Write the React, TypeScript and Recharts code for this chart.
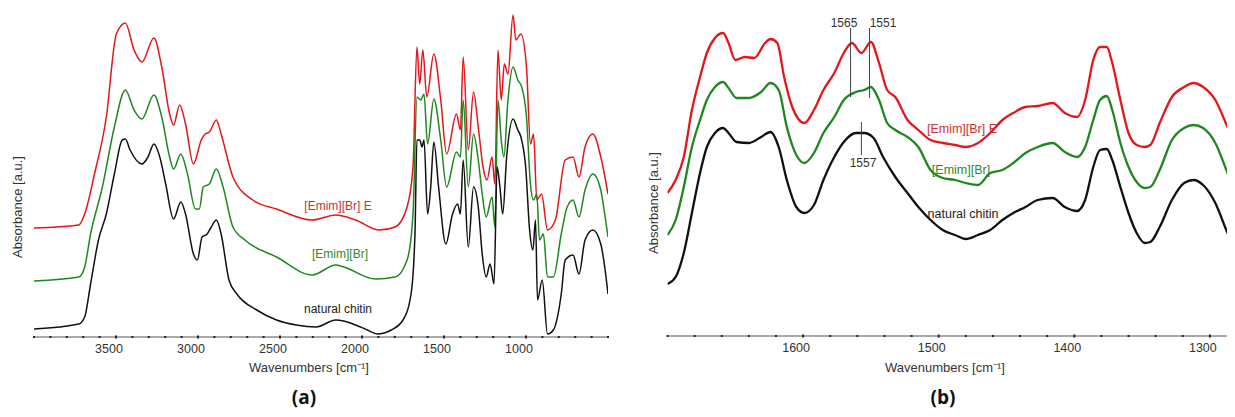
import React from "react";
import { LineChart, Line, XAxis, YAxis, ReferenceLine } from "recharts";

// ---------- Panel (a): full spectrum (wavenumber, cm-1) ----------
const aChitinWn = [4000,3727,3691,3655,3607,3559,3510,3462,3443,3414,3342,3305,3269,3233,3197,3149,3105,3076,3028,3004,2975,2944,2919,2888,2859,2811,2763,2642,2521,2401,2280,2160,2111,2039,1967,1906,1822,1750,1701,1677,1665,1648,1634,1622,1600,1581,1562,1533,1489,1448,1417,1400,1383,1352,1320,1291,1267,1243,1219,1195,1176,1159,1142,1118,1079,1050,1031,1002,978,958,942,930,901,869,833,785,761,713,677,640,592,544,520,500];
const aChitinAbs = [8,13,20,53,97,123,163,197,198,187,173,180,193,180,153,118,135,123,83,77,100,103,110,117,103,57,43,27,17,12,10,17,16,12,7,3,7,17,43,103,197,197,190,197,123,150,195,150,93,123,133,123,177,90,150,130,83,60,73,53,170,150,123,180,218,207,200,170,107,87,117,37,57,3,7,43,77,82,63,97,107,93,70,43];

const aEmimWn = [4000,3727,3691,3655,3583,3510,3443,3390,3342,3269,3221,3173,3149,3105,3064,3016,2992,2968,2931,2888,2847,2787,2714,2521,2304,2160,2111,1918,1798,1725,1689,1665,1641,1622,1600,1562,1520,1484,1424,1400,1383,1352,1320,1291,1267,1243,1207,1190,1171,1151,1135,1110,1079,1050,1026,997,973,954,934,918,894,869,833,785,749,713,677,640,592,544,520,500];
const aEmimAbs = [56,60,70,103,150,210,247,227,218,242,220,180,168,183,163,128,128,150,153,168,150,110,97,80,62,72,70,58,60,77,123,240,237,243,193,238,197,150,185,180,237,150,203,177,143,120,140,110,237,197,180,237,270,257,250,220,153,137,143,97,103,60,60,103,130,137,120,147,163,147,123,100];

const aEmimEWn = [4000,3727,3691,3631,3559,3498,3443,3390,3342,3269,3221,3173,3149,3112,3076,3028,2980,2956,2931,2888,2859,2787,2666,2521,2304,2160,2039,1894,1798,1725,1689,1665,1648,1629,1605,1562,1520,1484,1424,1400,1383,1352,1320,1291,1262,1238,1207,1190,1171,1151,1132,1110,1079,1062,1031,997,973,954,934,905,869,821,761,713,677,640,592,544,500];
const aEmimEAbs = [109,112,123,163,220,303,314,287,275,299,270,223,212,232,213,173,197,203,205,217,203,160,137,128,117,122,117,107,110,130,170,290,253,287,240,283,237,183,223,207,280,187,245,210,170,157,180,153,287,237,273,263,322,297,303,270,193,203,137,143,107,117,177,180,160,190,203,180,143];

const aTicks = [4000,3900,3800,3700,3600,3500,3400,3300,3200,3100,3000,2900,2800,2700,2600,2500,2400,2300,2200,2100,2000,1900,1800,1700,1600,1500,1400,1300,1200,1100,1000,900,800,700,600,500];
const aTickLabels = [3500,3000,2500,2000,1500,1000];

// ---------- Panel (b): amide region ----------
const bWn = [1700,1694,1688,1682,1676,1671,1665,1659,1655,1649,1640,1631,1624,1618,1612,1605,1599,1592,1585,1577,1570,1561,1555,1548,1541,1532,1523,1515,1506,1497,1488,1480,1471,1462,1453,1445,1436,1427,1416,1407,1398,1392,1386,1381,1376,1372,1366,1360,1354,1348,1344,1337,1328,1319,1312,1305,1296,1287,1279];
const bChitinAbs = [52,59,83,123,163,189,203,208,203,194,193,199,204,189,156,129,123,131,156,179,194,203,203,198,179,159,143,129,116,106,101,97,101,106,116,123,129,136,138,129,125,136,169,186,187,176,149,123,103,93,94,109,136,153,156,151,133,103,79];

const bEmimWn = [1700,1694,1688,1682,1676,1671,1665,1659,1655,1649,1640,1631,1624,1618,1612,1605,1599,1592,1585,1577,1570,1561,1555,1550,1544,1538,1532,1523,1515,1506,1497,1488,1480,1471,1462,1453,1445,1436,1427,1416,1407,1398,1392,1386,1381,1376,1372,1366,1360,1354,1348,1344,1337,1328,1319,1312,1305,1296,1287,1279];
const bEmimAbs = [101,116,149,189,216,236,249,254,248,238,238,244,253,246,209,181,173,183,203,219,236,244,246,249,236,213,206,199,189,166,158,156,153,151,163,166,173,183,189,193,184,179,189,216,236,240,226,193,169,154,148,149,166,196,208,211,208,193,163,136];

const bEmimEWn = [1700,1694,1688,1682,1676,1671,1665,1659,1655,1650,1643,1636,1628,1624,1619,1614,1608,1599,1592,1585,1577,1570,1564,1557,1550,1544,1538,1532,1523,1515,1506,1497,1488,1480,1471,1462,1453,1445,1436,1427,1416,1407,1398,1392,1386,1381,1376,1372,1366,1360,1354,1348,1344,1337,1328,1319,1312,1305,1296,1287,1279];
const bEmimEAbs = [143,156,179,226,259,283,298,303,293,276,279,278,293,297,293,259,229,213,226,246,263,283,293,283,294,273,246,239,216,206,196,193,191,189,193,203,216,223,229,230,233,223,219,236,276,289,289,273,236,203,191,189,191,213,239,249,253,249,236,209,186];

const bTicks = [1700,1680,1660,1640,1620,1600,1580,1560,1540,1520,1500,1480,1460,1440,1420,1400,1380,1360,1340,1320,1300,1280];
const bTickLabels = [1600,1500,1400,1300];

const bMarks = [1565, 1551, 1557];

const RED = "#e4161b";
const GREEN = "#1f871f";
const BLACK = "#111111";

const zip = (wn: number[], v: number[]) => wn.map((w, i) => ({ wn: w, v: v[i] }));

const makeTick = (labels: number[]) => (props: any) => {
  const { x, y, payload } = props;
  const isMajor = labels.includes(payload.value);
  return (
    <g>
      <rect x={x - 1} y={y - (isMajor ? 1.5 : 1)} width={2} height={isMajor ? 3 : 2} fill="#222" />
      {isMajor && (
        <text x={x - 7} y={y + 16} textAnchor="middle" fontSize={12.5} fill="#333" fontFamily="'Liberation Sans', Arial, sans-serif">
          {payload.value}
        </text>
      )}
    </g>
  );
};

const textFont = "'Liberation Sans', Arial, sans-serif";

export default function App() {
  return (
    <div style={{ position: "relative", width: 1235, height: 417, margin: -8, overflow: "hidden", background: "#fff" }}>
      <div style={{ position: "absolute", left: 0, top: 0 }}>
        <LineChart width={620} height={417} margin={{ top: 10, right: 12, bottom: 0, left: 34 }}>
          <XAxis
            type="number"
            dataKey="wn"
            domain={[500, 4000]}
            reversed
            ticks={aTicks}
            interval={0}
            tickLine={false}
            tickSize={0}
            tickMargin={0}
            height={80}
            axisLine={{ stroke: "#555", strokeWidth: 1 }}
            tick={makeTick(aTickLabels)}
            allowDataOverflow
          />
          <YAxis hide type="number" domain={[0, 327]} allowDataOverflow />
          <Line data={zip(aEmimEWn, aEmimEAbs)} dataKey="v" stroke={RED} strokeWidth={1.5} dot={false} type="monotone" isAnimationActive={false} />
          <Line data={zip(aEmimWn, aEmimAbs)} dataKey="v" stroke={GREEN} strokeWidth={1.5} dot={false} type="monotone" isAnimationActive={false} />
          <Line data={zip(aChitinWn, aChitinAbs)} dataKey="v" stroke={BLACK} strokeWidth={1.5} dot={false} type="monotone" isAnimationActive={false} />
        </LineChart>
      </div>
      <div style={{ position: "absolute", left: 620, top: 0 }}>
        <LineChart width={620} height={417} margin={{ top: 10, right: 3, bottom: 0, left: 47.5 }}>
          <XAxis
            type="number"
            dataKey="wn"
            domain={[1280, 1700]}
            reversed
            ticks={bTicks}
            interval={0}
            tickLine={false}
            tickSize={0}
            tickMargin={0}
            height={81}
            axisLine={{ stroke: "#555", strokeWidth: 1 }}
            tick={makeTick(bTickLabels)}
            allowDataOverflow
          />
          <YAxis hide type="number" domain={[0, 326]} allowDataOverflow />
          <Line data={zip(bEmimEWn, bEmimEAbs)} dataKey="v" stroke={RED} strokeWidth={2.3} dot={false} type="monotone" isAnimationActive={false} />
          <Line data={zip(bEmimWn, bEmimAbs)} dataKey="v" stroke={GREEN} strokeWidth={2.3} dot={false} type="monotone" isAnimationActive={false} />
          <Line data={zip(bWn, bChitinAbs)} dataKey="v" stroke={BLACK} strokeWidth={2.3} dot={false} type="monotone" isAnimationActive={false} />
          <ReferenceLine segment={[{ x: bMarks[0], y: 239 }, { x: bMarks[0], y: 308 }]} stroke="#444" strokeWidth={1} ifOverflow="visible" />
          <ReferenceLine segment={[{ x: bMarks[1], y: 238 }, { x: bMarks[1], y: 308 }]} stroke="#444" strokeWidth={1} ifOverflow="visible" />
          <ReferenceLine segment={[{ x: bMarks[2], y: 181 }, { x: bMarks[2], y: 214 }]} stroke="#444" strokeWidth={1} ifOverflow="visible" />
        </LineChart>
      </div>
      <svg width={1235} height={417} style={{ position: "absolute", left: 0, top: 0, pointerEvents: "none" }}>
        {/* panel (a) texts */}
        <text x={17} y={207} transform="rotate(-90 17 207)" textAnchor="middle" dominantBaseline="central" fontSize={13} fill="#333" fontFamily={textFont}>Absorbance [a.u.]</text>
        <text x={309} y={372} textAnchor="middle" fontSize={13} fill="#333" fontFamily={textFont}>Wavenumbers [cm⁻¹]</text>
        <text x={304} y={404} textAnchor="middle" fontSize={19} fontWeight="bold" fill="#111" fontFamily="'Open Sans', 'DejaVu Sans', sans-serif">(a)</text>
        <text x={338} y={210} textAnchor="middle" fontSize={12} fill="#c83232" fontFamily={textFont}>[Emim][Br] E</text>
        <text x={340} y={258} textAnchor="middle" fontSize={12} fill="#2a8a2a" fontFamily={textFont}>[Emim][Br]</text>
        <text x={338} y={313} textAnchor="middle" fontSize={12} fill="#222" fontFamily={textFont}>natural chitin</text>
        {/* panel (b) texts */}
        <text x={653} y={203} transform="rotate(-90 653 203)" textAnchor="middle" dominantBaseline="central" fontSize={13} fill="#333" fontFamily={textFont}>Absorbance [a.u.]</text>
        <text x={945} y={372} textAnchor="middle" fontSize={13} fill="#333" fontFamily={textFont}>Wavenumbers [cm⁻¹]</text>
        <text x={943} y={404} textAnchor="middle" fontSize={19} fontWeight="bold" fill="#111" fontFamily="'Open Sans', 'DejaVu Sans', sans-serif">(b)</text>
        <text x={962} y={133} textAnchor="middle" fontSize={12.5} fill="#c83232" fontFamily={textFont}>[Emim][Br] E</text>
        <text x={961} y={174} textAnchor="middle" fontSize={12.5} fill="#2a8a2a" fontFamily={textFont}>[Emim][Br]</text>
        <text x={963} y={218} textAnchor="middle" fontSize={12.5} fill="#222" fontFamily={textFont}>natural chitin</text>
        <text x={844} y={27} textAnchor="middle" fontSize={12} fill="#333" fontFamily={textFont}>1565</text>
        <text x={883} y={27} textAnchor="middle" fontSize={12} fill="#333" fontFamily={textFont}>1551</text>
        <text x={863} y={167} textAnchor="middle" fontSize={12} fill="#333" fontFamily={textFont}>1557</text>
      </svg>
    </div>
  );
}
